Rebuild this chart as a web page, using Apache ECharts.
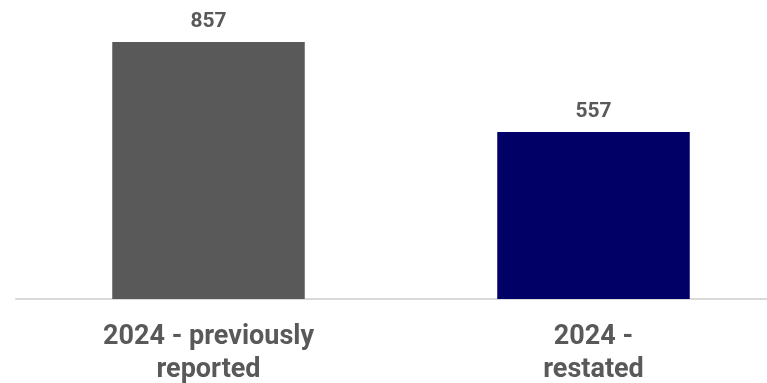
<!DOCTYPE html>
<html>
<head>
<meta charset="utf-8">
<script src="https://cdn.jsdelivr.net/npm/echarts@6/dist/echarts.min.js"></script>
<style>
  html, body { margin: 0; padding: 0; background: #ffffff; }
  #chart { width: 767px; height: 383px; }
</style>
</head>
<body>
<div id="chart"></div>
<script>
// Category labels (line breaks as displayed under each bar)
const categories = ['2024 - previously\nreported', '2024 -\nrestated'];
// Values for each bar
const values = [857, 557];
// Bar fill colours
const barColors = ['#595959', '#000066'];

const chart = echarts.init(document.getElementById('chart'), null, { renderer: 'canvas' });

chart.setOption({
  animation: false,
  backgroundColor: '#ffffff',
  // The plot runs past the right edge so the two slots are evenly spread
  grid: {
    left: 16, top: 2, width: 770, height: 297,
    containLabel: false,
    outerBoundsMode: 'none'
  },
  xAxis: {
    type: 'category',
    data: categories,
    axisLine: { show: true, lineStyle: { color: '#d9d9d9', width: 2 } },
    axisTick: { show: false },
    axisLabel: {
      color: '#595959',
      fontFamily: 'Roboto',
      fontWeight: 'bold',
      fontSize: 27,
      lineHeight: 33,
      margin: 22,
      interval: 0
    }
  },
  yAxis: {
    type: 'value',
    min: 0,
    max: 990,
    show: false,
    splitLine: { show: false }
  },
  series: [{
    type: 'bar',
    barWidth: '50%',
    data: values.map((v, i) => ({ value: v, itemStyle: { color: barColors[i] } })),
    label: {
      show: true,
      position: 'top',
      distance: 10,
      color: '#595959',
      fontFamily: 'Roboto',
      fontWeight: 'bold',
      fontSize: 21
    }
  }]
});
</script>
</body>
</html>
